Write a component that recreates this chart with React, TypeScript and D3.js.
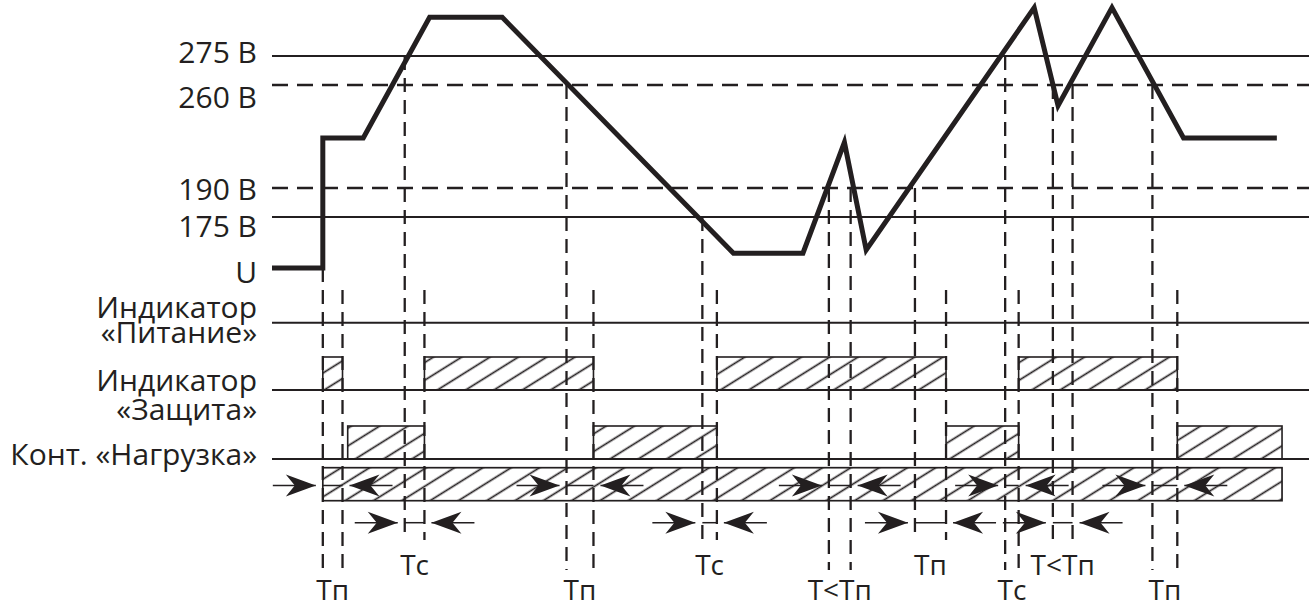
import React, { useEffect, useRef } from 'react';
import * as d3 from 'd3';

// Voltage trace: time (arbitrary units 0..100) and voltage (В)
const traceT = [0, 4.9, 4.9, 8.8, 15.2, 22.2, 44.5, 51.2, 55.2, 57.3, 73.5, 75.8, 81.0, 87.9, 96.9];
const traceV = [0, 0, 224, 224, 295, 295, 51, 51, 221, 62, 300, 246, 300, 224, 224];

// Threshold levels
const solidLevels = [275, 175];
const dashedLevels = [260, 190];
const levelLabels = ['275 В', '260 В', '190 В', '175 В', 'U'];
const levelValues = [275, 260, 190, 175, 0];

// Switching moments (dashed verticals) and the threshold they start from
const eventT = [4.9, 6.8, 12.8, 14.7, 28.4, 31.0, 41.5, 42.9, 53.7, 55.8, 62.0, 65.0, 70.7, 72.0, 75.3, 77.2, 84.9, 87.3];
const eventLevel: (number | null)[] = [0, null, 275, null, 260, null, 175, null, 190, 190, 190, null, 275, null, 260, 260, 260, null];

// Pairs of consecutive events -> interval labels
const pairLabels = ['Тп', 'Тс', 'Тп', 'Тс', 'T<Тп', 'Тп', 'Тс', 'T<Тп', 'Тп'];
const pairRow = ['low', 'high', 'low', 'high', 'low', 'high', 'low', 'high', 'low'];

// On-states of the outputs
const protectionOn = [[4.9, 6.8], [14.7, 31.0], [42.9, 65.0], [72.0, 87.3]];
const loadOn = [[7.3, 14.7], [31.0, 42.9], [65.0, 72.0], [87.3, 97.4]];
const bandSpan = [4.9, 97.4];

const rowNames = [['Индикатор', '«Питание»'], ['Индикатор', '«Защита»'], ['Конт. «Нагрузка»']];

const W = 1309;
const H = 609;
const ink = '#231f20';
const font = '"Open Sans", sans-serif';

export default function App() {
  const svgRef = useRef<SVGSVGElement>(null);

  useEffect(() => {
    if (!svgRef.current) return;
    const svg = d3.select(svgRef.current);
    svg.selectAll('*').remove();

    const x = d3.scaleLinear().domain([0, 100]).range([272, W]);
    const yV = d3.scaleLinear().domain([0, 175, 190, 260, 275]).range([268, 217, 188, 85, 56]);

    const rowY = [322.7, 390, 459];
    const barH = 33;
    const band = { top: 467.7, bottom: 500.7 };
    const arrowY: Record<string, number> = { low: 485.5, high: 522.7 };
    const lineEnd: Record<string, number> = { low: 570, high: 540 };
    const labelY: Record<string, number> = { low: 600, high: 575 };
    const labelDy = [7, 23, 12, 20, 15];

    const defs = svg.append('defs');
    defs.append('pattern')
      .attr('id', 'hatch')
      .attr('patternUnits', 'userSpaceOnUse')
      .attr('width', 10)
      .attr('height', 15)
      .attr('patternTransform', 'rotate(-32)')
      .append('line')
      .attr('x1', 0).attr('x2', 10)
      .attr('y1', 7.5).attr('y2', 7.5)
      .attr('stroke', ink)
      .attr('stroke-width', 1.7);

    const g = svg.append('g');

    // threshold lines
    g.selectAll('.solid')
      .data(solidLevels)
      .enter().append('line')
      .attr('x1', x(0)).attr('x2', W)
      .attr('y1', d => yV(d)).attr('y2', d => yV(d))
      .attr('stroke', ink).attr('stroke-width', 2);

    g.selectAll('.dashed')
      .data(dashedLevels)
      .enter().append('line')
      .attr('x1', x(0)).attr('x2', W)
      .attr('y1', d => yV(d)).attr('y2', d => yV(d))
      .attr('stroke', ink).attr('stroke-width', 2.6)
      .attr('stroke-dasharray', '16 9');

    // output rows
    g.selectAll('.row')
      .data(rowY)
      .enter().append('line')
      .attr('x1', x(0)).attr('x2', W)
      .attr('y1', d => d).attr('y2', d => d)
      .attr('stroke', ink).attr('stroke-width', 2);

    const bars = (data: number[][], base: number) => {
      g.append('g').selectAll('rect')
        .data(data)
        .enter().append('rect')
        .attr('x', d => x(d[0]))
        .attr('width', d => x(d[1]) - x(d[0]))
        .attr('y', base - barH)
        .attr('height', barH)
        .attr('fill', 'url(#hatch)')
        .attr('stroke', ink)
        .attr('stroke-width', 1.6);
    };
    bars(protectionOn, rowY[1]);
    bars(loadOn, rowY[2]);

    g.append('rect')
      .attr('x', x(bandSpan[0]))
      .attr('width', x(bandSpan[1]) - x(bandSpan[0]))
      .attr('y', band.top)
      .attr('height', band.bottom - band.top)
      .attr('fill', 'url(#hatch)')
      .attr('stroke', ink)
      .attr('stroke-width', 1.7);

    // dashed verticals
    g.selectAll('.ev')
      .data(eventT)
      .enter().append('line')
      .attr('x1', d => x(d)).attr('x2', d => x(d))
      .attr('y1', (d, i) => eventLevel[i] === null ? 290 : yV(eventLevel[i] as number))
      .attr('y2', (d, i) => lineEnd[pairRow[Math.floor(i / 2)]])
      .attr('stroke', ink).attr('stroke-width', 2.3)
      .attr('stroke-dasharray', '14 8');

    // dimension arrows
    const head = 'M0,0 L-30,-11 L-21,0 L-30,11 Z';
    const gap = 7;
    pairLabels.forEach((label, i) => {
      const a = x(eventT[2 * i]);
      const b = x(eventT[2 * i + 1]);
      const row = pairRow[i];
      const yy = arrowY[row];
      const pg = g.append('g');
      pg.append('line')
        .attr('x1', a - gap - 43).attr('x2', a - gap)
        .attr('y1', yy).attr('y2', yy)
        .attr('stroke', ink).attr('stroke-width', 1.5);
      pg.append('path').attr('d', head)
        .attr('transform', `translate(${a - gap},${yy})`)
        .attr('fill', ink);
      pg.append('line')
        .attr('x1', b + gap).attr('x2', b + gap + 43)
        .attr('y1', yy).attr('y2', yy)
        .attr('stroke', ink).attr('stroke-width', 1.5);
      pg.append('path').attr('d', head)
        .attr('transform', `translate(${b + gap},${yy}) rotate(180)`)
        .attr('fill', ink);
      pg.append('line')
        .attr('x1', a).attr('x2', b)
        .attr('y1', yy).attr('y2', yy)
        .attr('stroke', ink).attr('stroke-width', 1.5);
      pg.append('text')
        .attr('x', (a + b) / 2)
        .attr('y', labelY[row])
        .attr('text-anchor', 'middle')
        .attr('font-family', font)
        .attr('font-size', 28)
        .attr('fill', ink)
        .text(label);
    });

    // voltage trace
    const line = d3.line<number>()
      .x((d, i) => x(traceT[i]))
      .y(d => yV(d));
    g.append('path')
      .attr('d', line(traceV))
      .attr('fill', 'none')
      .attr('stroke', ink)
      .attr('stroke-width', 5)
      .attr('stroke-linejoin', 'miter');

    // level labels
    g.selectAll('.lvl')
      .data(levelLabels)
      .enter().append('text')
      .attr('x', 257)
      .attr('y', (d, i) => yV(levelValues[i]) + labelDy[i])
      .attr('text-anchor', 'end')
      .attr('font-family', font)
      .attr('font-size', 30)
      .attr('fill', ink)
      .text(d => d);

    // row labels
    const rowBase = [[318, 343], [391, 420], [465]];
    rowNames.forEach((lines, r) => {
      lines.forEach((t, k) => {
        g.append('text')
          .attr('x', 257)
          .attr('y', rowBase[r][k])
          .attr('text-anchor', 'end')
          .attr('font-family', font)
          .attr('font-size', 30)
          .attr('fill', ink)
          .text(t);
      });
    });
  }, []);

  return (
    <svg
      ref={svgRef}
      width={W}
      height={H}
      style={{ position: 'absolute', left: 0, top: 0, background: '#fff' }}
    />
  );
}
